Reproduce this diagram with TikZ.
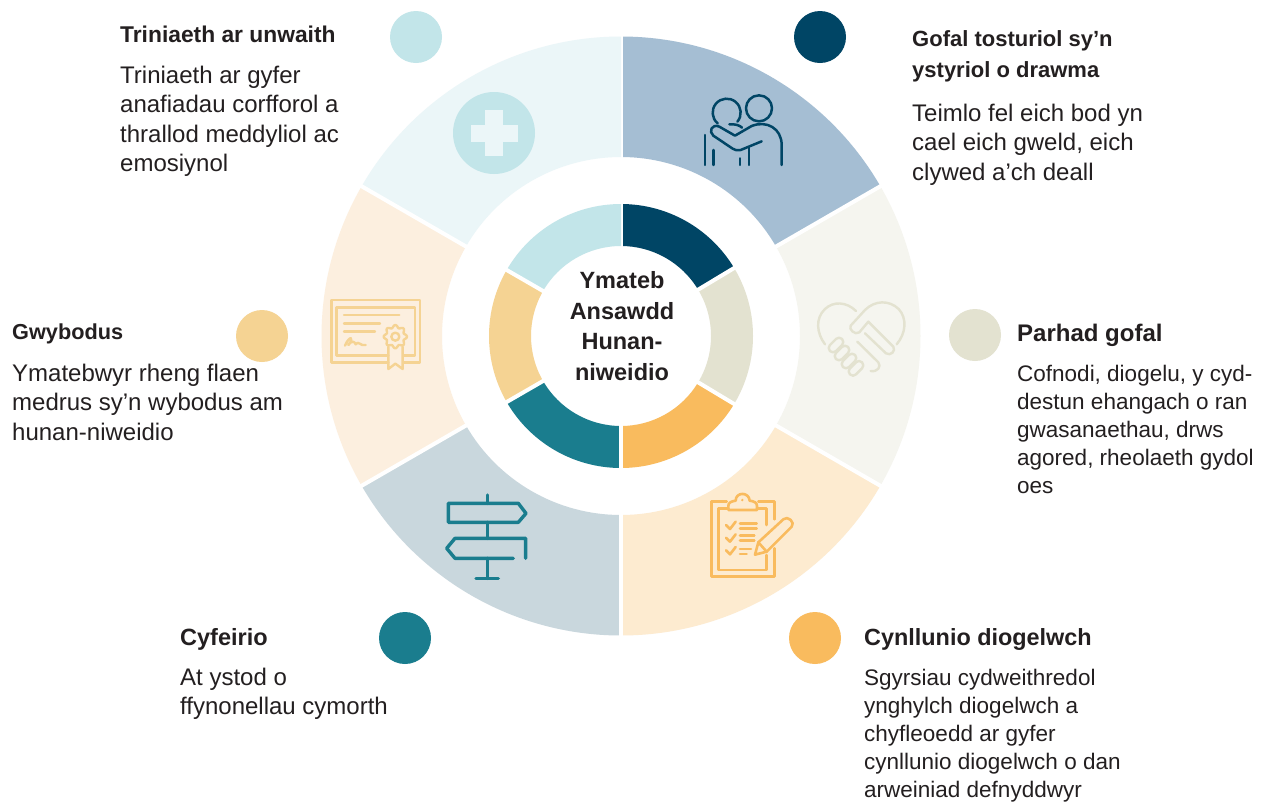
\documentclass[tikz,border=0pt]{standalone}
\usepackage{fontspec}
\setmainfont{Liberation Sans}
\definecolor{navyC}{HTML}{004565}
\definecolor{navyL}{HTML}{A5BED3}
\definecolor{stoneC}{HTML}{E3E2D0}
\definecolor{stoneL}{HTML}{F5F5EF}
\definecolor{amberC}{HTML}{F9BB5E}
\definecolor{amberL}{HTML}{FDEBD0}
\definecolor{tealC}{HTML}{1A7D8E}
\definecolor{tealL}{HTML}{C9D7DD}
\definecolor{sandC}{HTML}{F5D393}
\definecolor{sandL}{HTML}{FCEFDF}
\definecolor{aquaC}{HTML}{C2E5E9}
\definecolor{aquaL}{HTML}{EBF6F8}
\definecolor{inkC}{HTML}{231F20}
\tikzset{
  titletxt/.style={anchor=north west,inner sep=0pt,align=left,text=inkC,font=\fontsize{#1}{31}\selectfont\bfseries},
  bodytxt/.style={anchor=north west,inner sep=0pt,align=left,text=inkC,font=\fontsize{24}{29.3}\selectfont},
  smalltxt/.style={anchor=north west,inner sep=0pt,align=left,text=inkC,font=\fontsize{22.5}{28}\selectfont},
  icon/.style={x=0.3333pt,y=-0.3333pt,line cap=round,line join=round}
}
\begin{document}
\begin{tikzpicture}[x=1pt,y=-1pt]
\useasboundingbox (0,0) rectangle (1263,801);
\fill[white] (0,0) rectangle (1263,801);

% rings
\begin{scope}[shift={(621pt,-336pt)}]
\foreach \angA/\angB/\colO in {-90/-30/navyL,-30/30/stoneL,30/90/amberL,90/150/tealL,150/210/sandL,210/270/aquaL}{
  \fill[\colO] (\angA:299.5) arc[start angle=\angA,end angle=\angB,radius=299.5] -- (\angB:179) arc[start angle=\angB,end angle=\angA,radius=179] -- cycle;
  \draw[white,line width=4pt] (\angA:175) -- (\angA:305);
}
\foreach \angA/\angB/\colI in {-90/-31/navyC,-31/31/stoneC,31/90/amberC,90/150/tealC,150/210/sandC,210/270/aquaC}{
  \fill[\colI] (\angA:132) arc[start angle=\angA,end angle=\angB,radius=132] -- (\angB:90) arc[start angle=\angB,end angle=\angA,radius=90] -- cycle;
  \draw[white,line width=4pt] (\angA:85) -- (\angA:137);
}
\end{scope}

% dots
\fill[aquaC] (416,37) circle (26);
\fill[navyC] (820,37) circle (26);
\fill[stoneC] (975,335) circle (26);
\fill[amberC] (815,638) circle (26);
\fill[tealC] (405,638) circle (26);
\fill[sandC] (262,336) circle (26);

% middle
\node[inner sep=0pt,align=center,text=inkC,font=\fontsize{23.5}{30.5}\selectfont\bfseries] (hub) at (622,326) {Ymateb\\Ansawdd\\Hunan-\\niweidio};

% texts
\node[titletxt=22.8] (titleTreat) at (120,26) {Triniaeth ar unwaith};
\node[bodytxt] (bodyTreat) at (120,66) {Triniaeth ar gyfer\\anafiadau corfforol a\\thrallod meddyliol ac\\emosiynol};
\node[titletxt=22] (titleCare) at (912,30) {Gofal tosturiol sy’n\\ystyriol o drawma};
\node[bodytxt] (bodyCare) at (912,104) {Teimlo fel eich bod yn\\cael eich gweld, eich\\clywed a’ch deall};
\node[titletxt=24] (titleCont) at (1017,324) {Parhad gofal};
\node[smalltxt] (bodyCont) at (1017,365) {Cofnodi, diogelu, y cyd-\\destun ehangach o ran\\gwasanaethau, drws\\agored, rheolaeth gydol\\oes};
\node[titletxt=23.4] (titleSafe) at (864,628) {Cynllunio diogelwch};
\node[smalltxt] (bodySafe) at (864,669) {Sgyrsiau cydweithredol\\ynghylch diogelwch a\\chyfleoedd ar gyfer\\cynllunio diogelwch o dan\\arweiniad defnyddwyr};
\node[titletxt=23.5] (titleSign) at (180,628) {Cyfeirio};
\node[bodytxt] (bodySign) at (180,668) {At ystod o\\ffynonellau cymorth};
\node[titletxt=21.7] (titleKnow) at (12,324) {Gwybodus};
\node[bodytxt] (bodyKnow) at (12,364) {Ymatebwyr rheng flaen\\medrus sy'n wybodus am\\hunan-niweidio};

% cross
\fill[aquaC] (494,133) circle (41);
\fill[aquaL] (485,110) rectangle ++(17.5,46);
\fill[aquaL] (471,124.5) rectangle ++(46.5,17.5);

% hug
\begin{scope}[shift={(680pt,-70pt)},icon]
\draw[navyC,line width=2.5pt] (237,115) circle (39);
\draw[navyC,line width=2.5pt] (140,128) ++(130:42) arc[start angle=130,end angle=400,radius=42];
\draw[navyC,line width=2.5pt] (148,163) .. controls (165,162) and (178,165) .. (186,173);
\draw[navyC,line width=2.5pt] (245,214) -- (182,240) .. controls (172,243) and (165,240) .. (158,236) -- (100,197) .. controls (85,185) and (95,160) .. (118,170) -- (165,197) -- (215,168) .. controls (260,150) and (305,175) .. (305,225) -- (305,285);
\draw[navyC,line width=2.5pt] (75,195) -- (75,285);
\draw[navyC,line width=2.5pt] (101,240) -- (101,285);
\draw[navyC,line width=2.5pt] (180,265) -- (180,285);
\draw[navyC,line width=2.5pt] (207,232) -- (207,285);
\end{scope}

% handshake
\begin{scope}[shift={(800pt,-285pt)},icon]
\draw[stoneC,line width=2.4pt] (75,178) .. controls (50,145) and (45,100) .. (75,72) .. controls (100,48) and (140,50) .. (168,78);
\draw[stoneC,line width=2.4pt] (290,178) .. controls (318,145) and (322,100) .. (296,72) .. controls (268,45) and (225,45) .. (195,75) -- (152,122) .. controls (145,132) and (165,152) .. (178,142) -- (205,110) -- (280,185) .. controls (288,198) and (272,214) .. (258,205) -- (195,145);
\draw[stoneC,line width=2.4pt] (172,170) -- (235,232) .. controls (245,245) and (232,262) .. (212,258);
\foreach \px/\py in {108/180,126/204,147/228,168/250}{
  \draw[stoneC,line width=2.4pt,rounded corners=4pt] (\px-27,\py+9) -- ++(36,-36) -- ++(18,18) -- ++(-36,36) -- cycle;
}
\end{scope}

% clipboard
\begin{scope}[shift={(695pt,-480pt)},icon]
\draw[amberC,line width=2.6pt] (95,65) -- (50,65) -- (50,290) -- (238,290) -- (238,205);
\draw[amberC,line width=2.6pt] (190,65) -- (238,65) -- (238,118);
\draw[amberC,line width=2.6pt] (100,85) -- (70,85) -- (70,270) -- (215,270) -- (215,225);
\draw[amberC,line width=2.6pt] (190,85) -- (215,85) -- (215,135);
\draw[amberC,line width=2.6pt] (100,90) -- (100,78) .. controls (100,68) and (108,64) .. (122,62) .. controls (122,35) and (162,35) .. (164,62) .. controls (178,64) and (186,68) .. (186,78) -- (186,90) -- cycle;
\fill[amberC] (142,60) circle (4);
\foreach \py in {0,38,76}{
  \draw[amberC,line width=2.6pt] (93,135+\py) -- (105,147+\py) -- (122,125+\py);
}
\draw[amberC,line width=2.6pt] (135,130) -- (185,130) (135,145) -- (185,145) (135,167) -- (178,167) (135,182) -- (178,182) (135,207) -- (168,207) (135,222) -- (155,222);
\draw[amberC,line width=2.6pt] (180,224) -- (190,187) -- (265,118) .. controls (278,105) and (302,128) .. (290,140) -- (215,215) -- cycle;
\draw[amberC,line width=2.6pt] (190,187) -- (215,215);
\end{scope}

% signpost
\begin{scope}[shift={(430pt,-480pt)},icon]
\draw[tealC,line width=3.4pt] (55,70) -- (265,70) -- (288,100) -- (265,127) -- (55,127) -- cycle;
\draw[tealC,line width=3.4pt] (172,45) -- (172,70);
\draw[tealC,line width=3.4pt] (172,127) -- (172,175);
\draw[tealC,line width=3.4pt] (172,235) -- (172,295);
\draw[tealC,line width=3.4pt] (138,295) -- (205,295);
\draw[tealC,line width=3.4pt] (287,235) -- (287,175) -- (75,175) -- (50,205) -- (75,235) -- (250,235);
\end{scope}

% certificate
\begin{scope}[shift={(320pt,-285pt)},icon]
\draw[sandC,line width=2.4pt] (205,232) -- (35,232) -- (35,45) -- (300,45) -- (300,232) -- (250,232);
\draw[sandC,line width=2.4pt] (205,212) -- (50,212) -- (50,68) -- (285,68) -- (285,212) -- (250,212);
\draw[sandC,line width=2.4pt] (72,90) -- (238,90) (72,115) -- (180,115) (72,140) -- (165,140);
\draw[sandC,line width=2.4pt] (75,182) .. controls (88,150) and (105,155) .. (85,180) .. controls (95,165) and (105,170) .. (107,178) .. controls (115,165) and (122,185) .. (137,180);
\draw[sandC,line width=2.4pt,shift={(226,155)}] plot[smooth cycle,samples=64,domain=0:354.375,variable=\t] (\t:{31+4*cos(8*\t)});
\draw[sandC,line width=2.4pt] (226,155) circle (12);
\draw[sandC,line width=2.4pt] (205,185) -- (205,252) -- (226,236) -- (248,252) -- (248,185);
\end{scope}
\end{tikzpicture}
\end{document}
